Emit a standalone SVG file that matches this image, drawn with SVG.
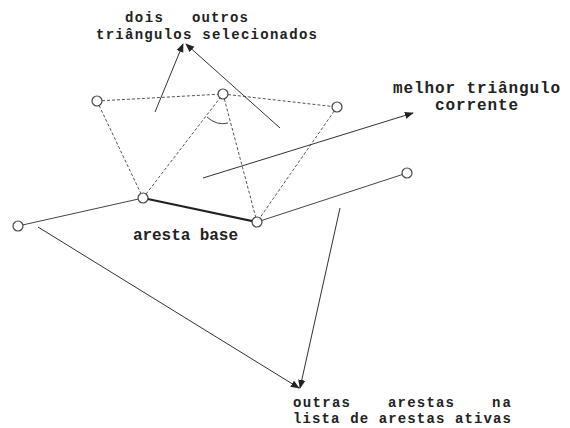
<svg xmlns="http://www.w3.org/2000/svg" width="570" height="428" viewBox="0 0 570 428">
<style>
text{font-family:"Liberation Mono","Courier New",monospace;font-size:16px;font-weight:bold;fill:#222}
.sm{font-size:14px}
.dot{stroke:#555;stroke-width:1;stroke-dasharray:3 2;fill:none}
.sol{stroke:#444;stroke-width:1;fill:none}
.base{stroke:#222;stroke-width:2.2;fill:none}
.arr{stroke:#333;stroke-width:1;fill:none;marker-end:url(#ah)}
.node{fill:#fff;stroke:#444;stroke-width:1.2}
</style>
<defs>
<marker id="ah" viewBox="0 0 10 10" refX="9" refY="5" markerWidth="9" markerHeight="9" markerUnits="userSpaceOnUse" orient="auto">
<path d="M0,1 L10,5 L0,9 Z" fill="#222"/>
</marker>
</defs>
<rect width="570" height="428" fill="#fff"/>
<g id="connectors">
<line class="dot" x1="97" y1="101" x2="223" y2="94"/>
<line class="dot" x1="223" y1="94" x2="337" y2="107"/>
<line class="dot" x1="97" y1="101" x2="143" y2="198"/>
<line class="dot" x1="143" y1="198" x2="223" y2="94"/>
<line class="dot" x1="223" y1="94" x2="257" y2="222"/>
<line class="dot" x1="337" y1="107" x2="257" y2="222"/>
<line class="sol" x1="18" y1="226" x2="143" y2="198"/>
<line class="base" x1="143" y1="198" x2="257" y2="222"/>
<line class="sol" x1="257" y1="222" x2="407" y2="173"/>
<path class="sol" d="M207,117 Q217,126 228,123"/>
<line class="arr" x1="155" y1="112" x2="183" y2="44"/>
<line class="arr" x1="280" y1="128" x2="186" y2="44"/>
<line class="arr" x1="203" y1="178" x2="413" y2="113"/>
<line class="arr" x1="38" y1="227" x2="299" y2="388"/>
<line class="arr" x1="340" y1="208" x2="300" y2="388"/>
</g>
<g id="nA"><circle class="node" cx="97" cy="101" r="5"/></g>
<g id="nB"><circle class="node" cx="223" cy="94" r="5"/></g>
<g id="nC"><circle class="node" cx="337" cy="107" r="5"/></g>
<g id="nD"><circle class="node" cx="143" cy="198" r="5"/></g>
<g id="nE"><circle class="node" cx="257" cy="222" r="5"/></g>
<g id="nF"><circle class="node" cx="18" cy="226" r="5"/></g>
<g id="nG"><circle class="node" cx="407" cy="173" r="5"/></g>
<g id="labels">
<text x="125" y="22" class="sm" textLength="38">dois</text>
<text x="192" y="22" class="sm" textLength="56">outros</text>
<text x="96" y="39" class="sm" textLength="221">triângulos selecionados</text>
<text x="393" y="93" style="font-size:16px" textLength="167">melhor triângulo</text>
<text x="435" y="110" style="font-size:16px" textLength="83">corrente</text>
<text x="133" y="240" textLength="105">aresta base</text>
<text x="293" y="407" class="sm" textLength="57">outras</text>
<text x="388" y="407" class="sm" textLength="66">arestas</text>
<text x="492" y="407" class="sm" textLength="19">na</text>
<text x="293" y="423" class="sm" textLength="218">lista de arestas ativas</text>
</g>
</svg>
